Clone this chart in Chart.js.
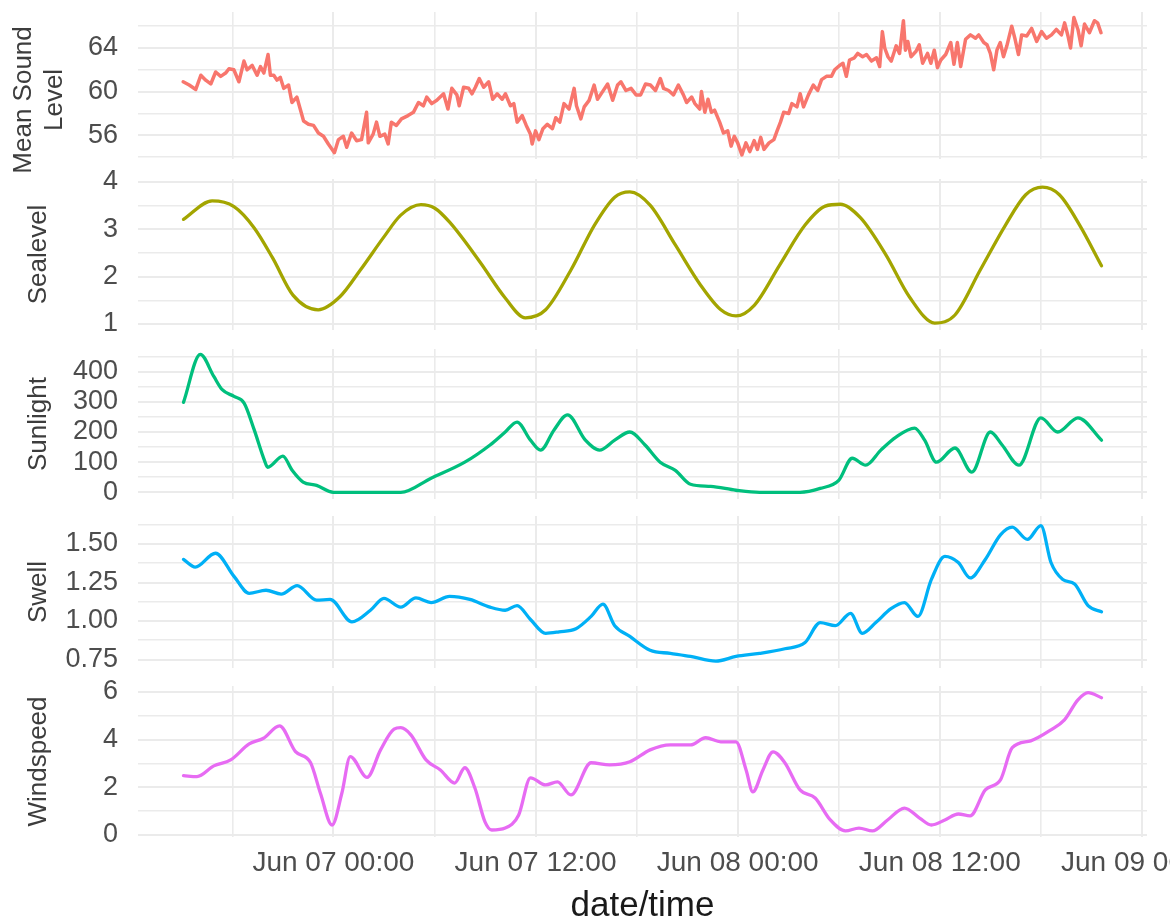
<!DOCTYPE html>
<html>
<head>
<meta charset="utf-8">
<script src="https://cdn.jsdelivr.net/npm/chart.js@4.4.1/dist/chart.umd.min.js"></script>
<style>
  html, body { margin: 0; padding: 0; background: #ffffff; overflow: hidden; }
  #wrap { position: relative; width: 1170px; height: 919px; overflow: hidden; background: #ffffff; }
  #wrap canvas { position: absolute; left: 0; }
</style>
</head>
<body>
<div id="wrap">
  <canvas id="c1"></canvas>
  <canvas id="c2"></canvas>
  <canvas id="c3"></canvas>
  <canvas id="c4"></canvas>
  <canvas id="c5"></canvas>
</div>
<script>
// Time axis: hours relative to Jun 07 00:00
const timeTickHours = [0, 12, 24, 36, 48];
const timeTickLabels = ['Jun 07 00:00', 'Jun 07 12:00', 'Jun 08 00:00', 'Jun 08 12:00', 'Jun 09 00:00'];

// Mean sound level (noisy record)
const soundHours = [
  -8.92, -8.56, -8.17, -7.87, -7.58, -7.28, -6.99, -6.69, -6.40, -6.20, -5.91, -5.61, -5.31, -5.12, -4.82, -4.53,
  -4.33, -4.13, -3.88, -3.74, -3.54, -3.35, -3.15, -2.95, -2.66, -2.46, -2.17, -1.97, -1.77, -1.48, -1.18, -0.89,
  -0.59, -0.30, 0.06, 0.30, 0.59, 0.79, 1.08, 1.38, 1.67, 1.97, 2.07, 2.36, 2.56, 2.76, 3.05, 3.25,
  3.44, 3.74, 4.04, 4.43, 4.75, 5.05, 5.34, 5.54, 5.84, 6.14, 6.34, 6.54, 6.80, 7.03, 7.33, 7.47,
  7.73, 8.03, 8.23, 8.43, 8.66, 8.92, 9.22, 9.46, 9.72, 10.02, 10.21, 10.51, 10.71, 10.91, 11.21, 11.45,
  11.70, 11.80, 12.00, 12.20, 12.44, 12.70, 13.00, 13.20, 13.44, 13.69, 13.99, 14.29, 14.43, 14.69, 14.89, 15.18,
  15.48, 15.68, 15.98, 16.28, 16.58, 16.87, 17.07, 17.37, 17.67, 17.97, 18.24, 18.53, 18.82, 19.12, 19.41, 19.60,
  19.90, 20.19, 20.48, 20.78, 20.97, 21.27, 21.46, 21.75, 21.85, 22.05, 22.24, 22.44, 22.63, 22.93, 23.16, 23.41,
  23.61, 23.80, 24.00, 24.25, 24.49, 24.72, 24.98, 25.17, 25.37, 25.56, 25.86, 26.15, 26.34, 26.54, 26.73, 27.03,
  27.22, 27.52, 27.71, 27.91, 28.20, 28.49, 28.75, 28.98, 29.27, 29.57, 29.76, 30.05, 30.25, 30.45, 30.64, 30.93,
  31.13, 31.42, 31.65, 31.94, 32.24, 32.43, 32.59, 32.73, 32.92, 33.12, 33.41, 33.61, 33.84, 33.96, 34.10, 34.29,
  34.59, 34.78, 34.98, 35.27, 35.47, 35.67, 35.86, 36.06, 36.35, 36.65, 36.84, 37.04, 37.24, 37.53, 37.82, 38.12,
  38.31, 38.61, 38.80, 39.00, 39.20, 39.39, 39.59, 39.78, 39.98, 40.27, 40.47, 40.67, 40.86, 41.16, 41.45, 41.75,
  42.04, 42.33, 42.63, 42.92, 43.22, 43.41, 43.61, 43.76, 43.96, 44.20, 44.39, 44.59, 44.88, 45.18, 45.37, 45.57
];
const soundLevel = [
  60.9, 60.6, 60.2, 61.5, 61.05, 60.7, 61.8, 61.4, 61.7, 62.1, 62.0, 60.9, 62.8, 62.0, 62.4, 61.5,
  62.3, 61.7, 63.4, 61.5, 61.5, 61.05, 61.3, 60.3, 60.6, 59.0, 59.5, 58.4, 57.3, 57.0, 56.9, 56.2,
  55.9, 55.2, 54.4, 55.6, 55.9, 54.9, 56.2, 55.5, 55.6, 58.1, 55.3, 56.1, 57.2, 55.9, 56.1, 55.2,
  57.2, 56.9, 57.5, 57.8, 58.1, 59.0, 58.7, 59.5, 58.9, 59.2, 59.5, 59.8, 58.4, 60.3, 59.7, 58.7,
  60.4, 60.3, 59.8, 60.4, 61.2, 60.4, 60.9, 59.3, 59.8, 59.3, 59.8, 58.7, 58.9, 57.2, 57.8, 56.9,
  56.1, 55.2, 56.4, 55.6, 56.6, 57.0, 56.6, 57.6, 57.2, 58.9, 58.4, 60.3, 58.7, 57.5, 58.6, 59.2,
  60.6, 59.3, 60.0, 60.7, 59.2, 60.6, 60.9, 60.1, 60.3, 59.7, 59.7, 60.7, 60.6, 60.1, 61.2, 60.3,
  60.1, 59.7, 60.6, 59.7, 59.0, 59.5, 58.9, 58.4, 60.0, 58.1, 59.3, 58.1, 58.3, 57.2, 56.2, 56.4,
  55.0, 55.9, 55.3, 54.2, 55.3, 54.5, 55.5, 54.7, 55.8, 54.7, 55.3, 55.6, 56.4, 57.2, 58.1, 58.0,
  58.9, 58.6, 59.8, 58.6, 59.7, 60.6, 60.1, 61.1, 61.4, 61.4, 62.0, 62.4, 62.6, 61.4, 62.9, 63.1,
  63.5, 63.2, 63.4, 62.8, 63.1, 62.3, 65.5, 64.0, 63.2, 62.8, 64.2, 63.5, 66.5, 63.8, 64.6, 63.2,
  63.7, 64.3, 62.6, 63.5, 62.6, 63.8, 62.2, 62.9, 63.4, 64.5, 62.5, 64.5, 62.3, 64.8, 65.2, 64.9,
  65.2, 64.5, 64.3, 63.5, 62.0, 63.8, 64.5, 63.2, 64.2, 66.0, 64.8, 63.4, 65.2, 65.1, 65.8, 64.6,
  65.5, 64.9, 65.2, 65.7, 65.2, 66.3, 65.1, 64.0, 66.8, 65.7, 64.2, 66.2, 65.4, 66.5, 66.3, 65.4
];

// Sea level
const seaHours = [
  -8.9, -7.2, -5.9, -4.7, -3.6, -2.4, -0.9, 0.4, 1.6, 3.0, 4.0, 5.2, 6.0, 6.9, 8.7, 10.2, 11.4,
  12.6, 14.1, 15.5, 16.7, 17.6, 18.8, 20.3, 21.8, 23.0, 23.9, 25.0, 26.5, 28.0, 29.2, 30.1, 31.3,
  32.8, 34.2, 35.7, 36.9, 38.4, 39.9, 41.1, 42.1, 43.1, 44.3, 45.6
];
const seaLevel = [
  3.21, 3.60, 3.48, 3.03, 2.39, 1.61, 1.30, 1.58, 2.14, 2.84, 3.30, 3.52, 3.45, 3.15, 2.31, 1.55, 1.13,
  1.30, 2.14, 3.09, 3.68, 3.79, 3.51, 2.67, 1.82, 1.30, 1.17, 1.40, 2.25, 3.09, 3.49, 3.53, 3.24,
  2.46, 1.57, 1.02, 1.19, 2.14, 3.09, 3.73, 3.89, 3.73, 3.09, 2.23
];

// Sunlight
const sunHours = [
  -8.9, -7.9, -7.1, -6.6, -5.9, -5.3, -4.7, -4.1, -3.9, -3.0, -2.45, -1.8, -1.0, 0.0, 4.0, 5.8,
  7.8, 9.3, 10.2, 10.9, 11.7, 12.3, 13.1, 13.9, 14.96, 15.8, 16.7, 17.6, 18.5, 19.4, 20.3, 21.2,
  22.4, 23.9, 25.3, 27.7, 28.9, 30.0, 30.8, 31.6, 32.5, 33.4, 34.5, 35.1, 35.8, 36.9, 37.9, 39.0,
  39.7, 40.7, 42.0, 43.0, 44.2, 45.6
];
const sunlight = [
  298, 457, 384, 340, 318, 296, 207, 107, 83, 120, 73, 34, 23, 0, 0, 47,
  100, 157, 200, 233, 173, 140, 207, 257, 173, 140, 173, 200, 157, 100, 73, 27,
  20, 7, 0, 0, 13, 40, 113, 90, 140, 183, 213, 173, 100, 147, 67, 200,
  157, 90, 247, 200, 247, 173
];

// Swell
const swellHours = [
  -8.9, -8.2, -7.0, -5.9, -5.0, -4.0, -3.1, -2.15, -1.0, -0.2, 1.1, 2.2, 3.0, 4.0, 4.9, 5.8,
  6.9, 8.1, 9.3, 10.2, 10.9, 11.7, 12.6, 13.4, 14.4, 15.3, 16.0, 16.7, 17.6, 18.8, 20.0, 21.2,
  22.7, 23.9, 25.3, 26.8, 28.0, 28.9, 29.8, 30.7, 31.4, 32.2, 33.1, 33.9, 34.7, 35.5, 36.3, 37.1,
  37.8, 38.7, 39.6, 40.3, 41.2, 42.0, 42.6, 43.3, 44.0, 44.8, 45.6
];
const swell = [
  1.40, 1.35, 1.44, 1.29, 1.18, 1.20, 1.175, 1.23, 1.136, 1.14, 0.995, 1.07, 1.147, 1.09, 1.15, 1.12,
  1.16, 1.14, 1.09, 1.07, 1.10, 1.01, 0.92, 0.93, 0.95, 1.03, 1.11, 0.97, 0.90, 0.81, 0.79, 0.77,
  0.74, 0.77, 0.79, 0.82, 0.86, 0.99, 0.97, 1.05, 0.92, 0.99, 1.08, 1.12, 1.03, 1.27, 1.42, 1.38,
  1.28, 1.40, 1.56, 1.61, 1.53, 1.62, 1.38, 1.27, 1.24, 1.10, 1.06
];

// Wind speed
const windHours = [
  -8.9, -8.1, -7.1, -6.1, -5.0, -4.15, -3.2, -2.25, -1.36, -0.77, -0.08, 0.5, 1.0, 2.0, 2.8, 3.6,
  4.0, 4.6, 5.5, 6.35, 7.2, 7.8, 8.4, 9.0, 9.4, 10.2, 11.0, 11.7, 12.6, 13.3, 14.1, 15.3,
  16.4, 17.6, 18.8, 20.0, 21.2, 22.1, 23.0, 23.9, 24.5, 24.9, 25.5, 26.1, 26.8, 27.7, 28.6, 29.5,
  30.4, 31.2, 32.0, 32.9, 33.9, 34.8, 35.5, 36.3, 37.1, 37.8, 38.7, 39.6, 40.3, 41.4, 42.6, 43.4,
  44.2, 44.8, 45.6
];
const windspeed = [
  2.49, 2.45, 2.90, 3.15, 3.82, 4.06, 4.58, 3.50, 3.04, 1.75, 0.42, 1.75, 3.29, 2.42, 3.57, 4.44,
  4.50, 4.20, 3.15, 2.73, 2.18, 2.82, 1.97, 0.55, 0.21, 0.29, 0.84, 2.40, 2.10, 2.23, 1.68, 3.03,
  2.94, 3.07, 3.57, 3.78, 3.78, 4.08, 3.91, 3.91, 2.73, 1.81, 2.73, 3.49, 3.03, 1.89, 1.55, 0.63,
  0.17, 0.29, 0.17, 0.63, 1.13, 0.71, 0.42, 0.63, 0.88, 0.80, 1.89, 2.31, 3.66, 3.95, 4.41, 4.83,
  5.67, 5.97, 5.76
];

const FONT = "'Liberation Sans', Arial, Helvetica, sans-serif";
const TICK_COLOR = '#4d4d4d';
const TITLE_COLOR = '#3d3d3d';
const GRID_COLOR = '#ebebeb';
const PLOT_LEFT = 138;
const PAGE_W = 1170;
const PLOT_RIGHT = 1147;
const MARGIN = 20;          // transparent room above/below each panel for tick labels
const BOTTOM_AXIS_H = 99;   // date axis under the last panel

const panels = [
  { id: 'c1', top: 12, height: 147, title: ['Mean Sound    ', 'Level    '], hours: soundHours, values: soundLevel,
    color: '#F8766D', min: 53.82, max: 67.30, step: 2, major: 4, decimals: 0, smooth: false, lineW: 3.5,
    titlePad: 8, titleLH: 31 / 26 },
  { id: 'c2', top: 179, height: 151, title: 'Sealevel', hours: seaHours, values: seaLevel,
    color: '#A3A500', min: 0.873, max: 4.063, step: 0.5, major: 1, decimals: 0, smooth: true, lineW: 3.3,
    titlePad: 26, titleLH: 25 / 26 },
  { id: 'c3', top: 349, height: 150, title: 'Sunlight', hours: sunHours, values: sunlight,
    color: '#00BF7D', min: -22, max: 475, step: 50, major: 100, decimals: 0, smooth: true, lineW: 3.3,
    titlePad: 26, titleLH: 25 / 26 },
  { id: 'c4', top: 516, height: 152, title: 'Swell', hours: swellHours, values: swell,
    color: '#00B0F6', min: 0.695, max: 1.682, step: 0.125, major: 0.25, decimals: 2, smooth: true, lineW: 3.3,
    titlePad: 26, titleLH: 25 / 26 },
  { id: 'c5', top: 686, height: 151, title: 'Windspeed', hours: windHours, values: windspeed,
    color: '#E76BF3', min: -0.084, max: 6.25, step: 1, major: 2, decimals: 0, smooth: true, lineW: 3.3,
    titlePad: 26, titleLH: 25 / 26, bottom: true }
];

const isMultiple = (v, m) => Math.abs(v / m - Math.round(v / m)) < 1e-6;
const X_MIN = -11.6, X_MAX = 48.3;

panels.forEach(p => {
  const canvas = document.getElementById(p.id);
  const padBottom = p.bottom ? 0 : MARGIN;
  const canvasH = MARGIN + p.height + (p.bottom ? BOTTOM_AXIS_H : MARGIN);
  canvas.width = PAGE_W;
  canvas.height = canvasH;
  canvas.style.width = PAGE_W + 'px';
  canvas.style.height = canvasH + 'px';
  canvas.style.top = (p.top - MARGIN) + 'px';

  const points = p.hours.map((h, i) => ({ x: h, y: p.values[i] }));

  new Chart(canvas.getContext('2d'), {
    type: 'line',
    data: {
      datasets: [{
        data: points,
        borderColor: p.color,
        borderWidth: p.lineW,
        pointRadius: 0,
        fill: false,
        tension: p.smooth ? 0.4 : 0,
        cubicInterpolationMode: p.smooth ? 'monotone' : 'default',
        borderJoinStyle: 'round',
        borderCapStyle: 'round'
      }]
    },
    options: {
      responsive: false,
      animation: false,
      devicePixelRatio: 1,
      layout: { padding: { left: 0, top: MARGIN, bottom: padBottom, right: PAGE_W - PLOT_RIGHT } },
      plugins: { legend: { display: false }, tooltip: { enabled: false } },
      scales: {
        x: {
          type: 'linear',
          min: X_MIN,
          max: X_MAX,
          border: { display: false },
          grid: {
            color: GRID_COLOR,
            drawTicks: false,
            lineWidth: ctx => (ctx.tick && isMultiple(ctx.tick.value, 12)) ? 2 : 1.6
          },
          ticks: {
            display: !!p.bottom,
            stepSize: 6,
            autoSkip: false,
            includeBounds: false,
            maxRotation: 0,
            minRotation: 0,
            padding: 9,
            color: TICK_COLOR,
            font: { family: FONT, size: 28 },
            callback: v => {
              const k = timeTickHours.findIndex(t => Math.abs(t - v) < 1e-6);
              return k >= 0 ? timeTickLabels[k] : '';
            }
          },
          title: {
            display: !!p.bottom,
            text: 'date/time',
            color: '#1a1a1a',
            font: { family: FONT, size: 35 },
            padding: { top: 0, bottom: 9 }
          },
          afterFit: s => {
            s.height = p.bottom ? BOTTOM_AXIS_H : 0;
            s.paddingLeft = 0; s.paddingRight = 0;
          }
        },
        y: {
          type: 'linear',
          position: 'left',
          min: p.min,
          max: p.max,
          border: { display: false },
          grid: {
            color: GRID_COLOR,
            drawTicks: false,
            lineWidth: ctx => (ctx.tick && isMultiple(ctx.tick.value, p.major)) ? 2 : 1.6
          },
          ticks: {
            stepSize: p.step,
            autoSkip: false,
            includeBounds: false,
            padding: 20,
            color: TICK_COLOR,
            font: { family: FONT, size: 27 },
            callback: v => isMultiple(v, p.major) ? Number(v).toFixed(p.decimals) : ''
          },
          title: {
            display: true,
            text: p.title,
            color: TITLE_COLOR,
            font: { family: FONT, size: 26, lineHeight: p.titleLH },
            padding: { top: p.titlePad, bottom: 0 }
          },
          afterFit: s => {
            s.width = PLOT_LEFT;
            s.paddingTop = 0; s.paddingBottom = 0;
          }
        }
      }
    }
  });
});
</script>
</body>
</html>
